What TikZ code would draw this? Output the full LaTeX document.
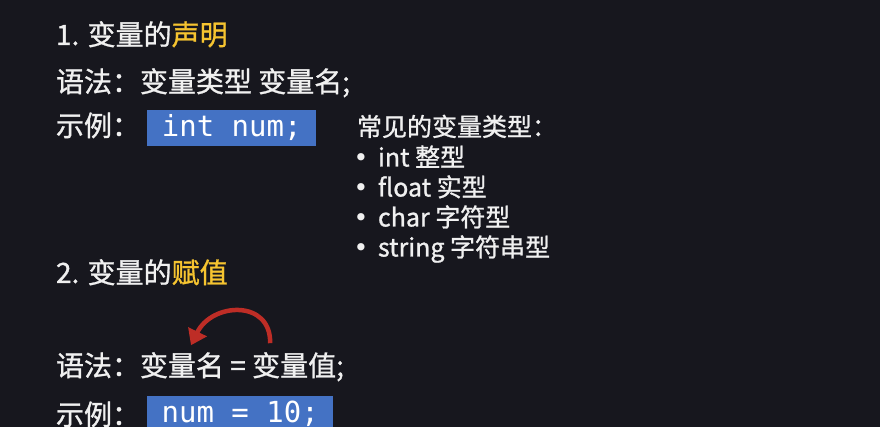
\documentclass[tikz,border=0pt]{standalone}
\usepackage{fontspec}
\setmainfont{Noto Sans CJK SC}[FakeBold=1]
\newfontfamily\codefont{DejaVu Sans Mono}
\newfontfamily\bulfont{DejaVu Sans}
\usetikzlibrary{arrows.meta}
\definecolor{bg}{RGB}{23,23,30}
\definecolor{fg}{RGB}{240,240,240}
\definecolor{hl}{RGB}{246,196,48}
\definecolor{boxblue}{RGB}{68,114,196}
\definecolor{arrred}{RGB}{190,45,38}
\tikzset{
  txt/.style={anchor=base west, inner sep=0pt, outer sep=0pt, text=fg, font=\fontsize{28}{34}\selectfont},
  small/.style={txt, font=\fontsize{25}{30}\selectfont},
  bul/.style={small, anchor=base, font=\bulfont\fontsize{25}{30}\selectfont},
  codebox/.style={fill=boxblue, text=white, font=\codefont\fontsize{29}{34}\selectfont,
    inner sep=0pt, minimum height=36pt, anchor=north west, text height=21pt, text depth=4pt},
  assign/.style={draw=arrred, line width=4.5pt, -{Triangle[length=15pt,width=20pt]}}
}
\begin{document}
\begin{tikzpicture}[x=1pt,y=-1pt]
\fill[bg] (0,0) rectangle (880,427);
\clip (0,0) rectangle (880,427);
% section 1
\node[txt] (t1) at (56,45) {1. 变量的\textcolor{hl}{声明}};
\node[txt] (s1) at (56,92) {语法：变量类型 变量名;};
\node[txt] (e1) at (56,136) {示例：};
\node[codebox, minimum width=169pt] (c1) at (147,110) {int num;};
% list
\node[small] (lh) at (357,136) {常见的变量类型：};
\node[bul] (b1) at (361,166.5) {•};
\node[small] (l1) at (378,166.5) {int 整型};
\node[bul] (b2) at (361,196.5) {•};
\node[small] (l2) at (378,196.5) {float 实型};
\node[bul] (b3) at (361,226.5) {•};
\node[small] (l3) at (378,226.5) {char 字符型};
\node[bul] (b4) at (361,256.5) {•};
\node[small] (l4) at (378,256.5) {string 字符串型};
% section 2
\node[txt] (t2) at (56,283) {2. 变量的\textcolor{hl}{赋值}};
\node[txt] (s2) at (56,376) {语法：};
\node[txt] (nm) at (s2.base east) {变量名};
\node[txt] (eq) at ([xshift=6.3pt]nm.base east) {=};
\node[txt] (vl) at ([xshift=6.3pt]eq.base east) {变量值;};
\draw[assign] ([shift={(18,-9)}]vl.north west) .. controls ([shift={(19,-53)}]vl.north west) and ([shift={(72,-50)}]nm.north west) .. ([shift={(51,-7)}]nm.north west);
\node[txt] (e2) at (56,425) {示例：};
\node[codebox, minimum width=186pt] (c2) at (147,396) {num = 10;};
\end{tikzpicture}
\end{document}
